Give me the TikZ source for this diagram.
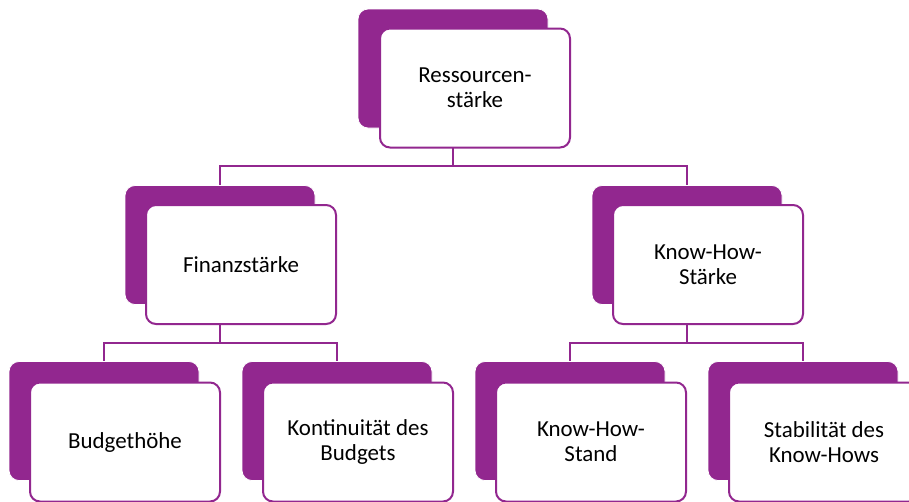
\documentclass[tikz,border=0pt]{standalone}
\usepackage{fontspec}
\setmainfont{Carlito}
\usetikzlibrary{backgrounds}
\definecolor{plum}{RGB}{146,39,143}
\tikzset{
  backcard/.style={rectangle, rounded corners=7.5pt, fill=plum, draw=white,
    line width=0.6pt, minimum width=142.5pt, minimum height=89.25pt,
    inner sep=0pt, outer sep=0pt},
  frontcard/.style={rectangle, rounded corners=7.5pt, fill=white, draw=plum,
    line width=1.5pt, minimum width=142.5pt, minimum height=89.25pt,
    inner sep=0pt, outer sep=0pt, align=center, text=black,
    font=\fontsize{17.2}{18.8}\selectfont},
  link/.style={draw=plum, line width=1.5pt},
}
\begin{document}
\begin{tikzpicture}[x=0.75pt,y=-0.75pt]
\useasboundingbox (0,0) rectangle (909,501);

% top level
\node[backcard]  (rb) at (453,68.5) {};
\node[frontcard] (rf) at (475,88) {Ressourcen-\\stärke};

% second level
\node[backcard]  (fb) at (220,245) {};
\node[frontcard] (ff) at (241,264.5) {Finanzstärke};
\node[backcard]  (kb) at (687,245) {};
\node[frontcard] (kf) at (708,264.5) {Know-How-\\Stärke};

% third level
\node[backcard]  (b1b) at (104,421) {};
\node[frontcard] (b1f) at (125,442) {Budgethöhe};
\node[backcard]  (b2b) at (337,421) {};
\node[frontcard] (b2f) at (358,442) {Kontinuität des\\Budgets};
\node[backcard]  (k1b) at (570,421) {};
\node[frontcard] (k1f) at (591,442) {Know-How-\\Stand};
\node[backcard]  (k2b) at (803,421) {};
\node[frontcard] (k2f) at (824,442) {Stabilität des\\Know-Hows};

% tree connectors, behind the cards
\coordinate (j1) at (453,166);
\coordinate (j2) at (220,343);
\coordinate (j3) at (687,343);
\begin{scope}[on background layer]
  \fill[white] (0,0) rectangle (909,501);
  \draw[link] (rb |- rf.south) -- (j1);
  \draw[link] (fb.north) |- (j1) -| (kb.north);
  \draw[link] (fb |- ff.south) -- (j2);
  \draw[link] (b1b.north) |- (j2) -| (b2b.north);
  \draw[link] (kb |- kf.south) -- (j3);
  \draw[link] (k1b.north) |- (j3) -| (k2b.north);
\end{scope}
\end{tikzpicture}
\end{document}
